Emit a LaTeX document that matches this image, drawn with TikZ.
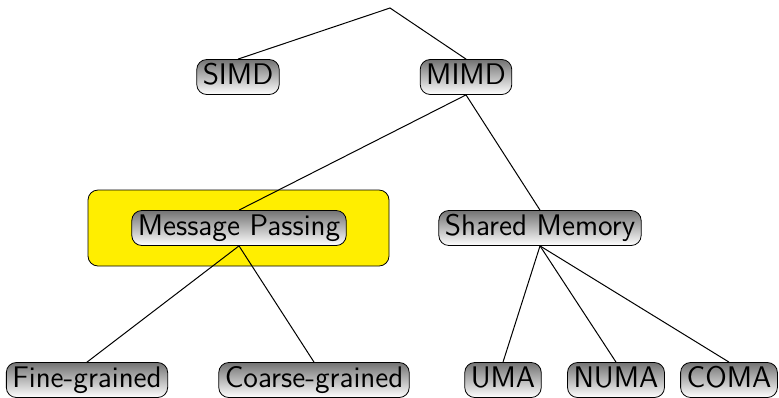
\documentclass[tikz,border=0pt]{standalone}
\definecolor{mpyellow}{RGB}{255, 238, 0}
\usepackage{tikz}
\usetikzlibrary{shapes, positioning, calc}

\begin{document}
\begin{tikzpicture}[x=0.5pt, y=-0.5pt,
    class/.style={draw=black, rounded corners=5pt, top color=black!55, bottom color=white,
      inner xsep=3pt, inner ysep=2pt, font=\sffamily\fontsize{14.9}{17}\selectfont, text height=10.5pt, text depth=3pt},
    highlight/.style={draw=black, fill=mpyellow, rounded corners=5pt, minimum width=150.5pt, minimum height=38pt},
    edge/.style={draw=black, line width=0.5pt}]
  \useasboundingbox (0,0) rectangle (779,397);

  % highlighted branch
  \node[highlight] (mpbox) at (238.5,228) {};

  \coordinate (root) at (390,8);
  \node[class] (simd) at (238,77) {SIMD};
  \node[class] (mimd) at (466,77) {MIMD};
  \node[class] (mp) at (239,228) {Message Passing};
  \node[class] (sm) at (540,228) {Shared Memory};
  \node[class] (fine) at (87,380) {Fine-grained};
  \node[class] (coarse) at (314,380) {Coarse-grained};
  \node[class] (uma) at (503,380) {UMA};
  \node[class] (numa) at (616,380) {NUMA};
  \node[class] (coma) at (729,380) {COMA};

  \draw[edge] (simd.north) -- (root) -- (mimd.north);
  \draw[edge] (mimd.south) -- (mp.north);
  \draw[edge] (mimd.south) -- (sm.north);
  \draw[edge] (mp.south) -- (fine.north);
  \draw[edge] (mp.south) -- (coarse.north);
  \draw[edge] (sm.south) -- (uma.north);
  \draw[edge] (sm.south) -- (numa.north);
  \draw[edge] (sm.south) -- (coma.north);
\end{tikzpicture}
\end{document}
